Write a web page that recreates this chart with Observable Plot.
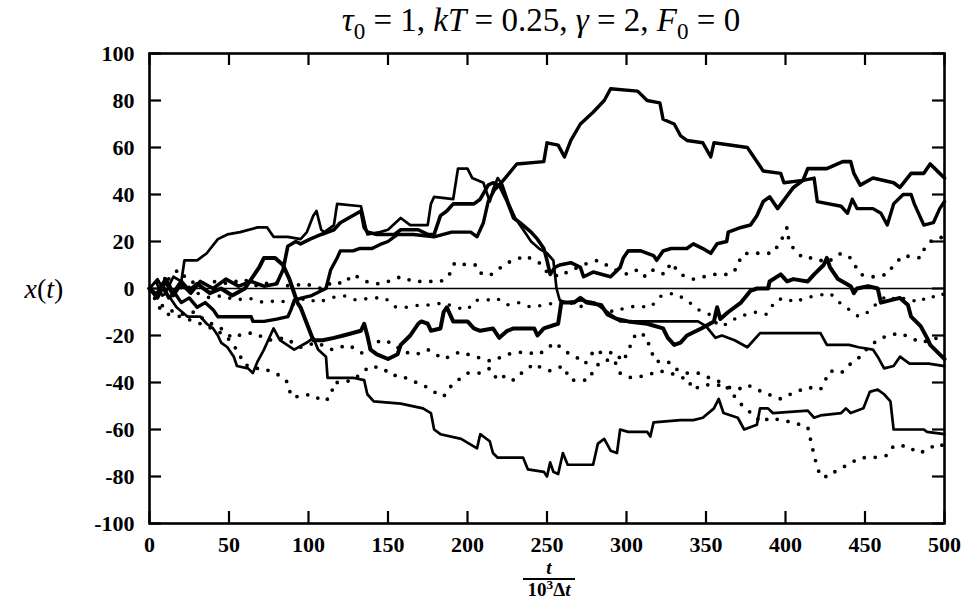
<!DOCTYPE html>
<html><head><meta charset="utf-8">
<script src="https://cdn.jsdelivr.net/npm/d3@7"></script>
<script src="https://cdn.jsdelivr.net/npm/@observablehq/plot@0.6"></script>
<style>body{margin:0;background:#fff}#chart svg{display:block}</style>
</head><body><div id="chart"></div>
<script>
// tick labels
const xTicks = [0, 50, 100, 150, 200, 250, 300, 350, 400, 450, 500];
const yTicks = [-100, -80, -60, -40, -20, 0, 20, 40, 60, 80, 100];

// trajectories [t/(10^3 dt), x(t)]
const solidA = [[0,0],[4,-3],[8,2],[12,-4],[16,-2],[20,-6],[25,-4],[30,-8],[35,-6],[40,-9],[43,-12],[55,-12],[64,-12],[65,-14],[72,-14],[80,-13],[87,-12],[89,-9],[91,-5],[96,-4],[102,-3],[108,-1],[111,0],[114,8],[118,13],[120,16],[128,16],[132,17],[140,17],[146,19],[150,20],[156,23],[166,23],[179,22],[190,24],[202,24],[206,22],[210,28],[213,37],[217,42],[220,44],[225,48],[231,53],[248,54],[250,62],[257,61],[261,56],[265,63],[271,70],[279,75],[286,80],[290,85],[307,84],[313,80],[321,79],[323,72],[330,70],[334,65],[338,63],[348,62],[353,56],[355,62],[376,60],[384,52],[386,50],[397,49],[399,45],[411,46],[418,47],[420,37],[435,35],[439,32],[442,38],[445,34],[455,34],[460,32],[464,27],[468,36],[474,40],[479,40],[481,36],[487,27],[493,28],[497,34],[500,37]];
const solidB = [[0,0],[5,4],[10,-2],[15,5],[20,3],[22,12],[30,12],[36,15],[43,21],[49,23],[57,24],[68,26],[74,26],[78,22],[87,22],[95,21],[99,24],[103,31],[105,33],[108,25],[110,24],[116,27],[118,36],[133,35],[137,23],[145,24],[150,25],[158,30],[164,27],[175,27],[177,36],[179,39],[191,38],[194,51],[200,51],[203,47],[210,45],[214,37],[216,42],[219,47],[222,44],[226,36],[230,30],[233,27],[236,24],[240,20],[245,17],[250,15],[254,12],[255,6],[256,0],[258,-5],[262,-6],[272,-5],[280,-6],[290,-11],[296,-14],[313,-14],[328,-14],[345,-14],[350,-16],[356,-21],[360,-20],[368,-22],[376,-25],[384,-19],[410,-19],[422,-19],[426,-24],[440,-24],[446,-25],[455,-26],[458,-29],[462,-34],[468,-33],[472,-29],[478,-32],[490,-32],[500,-33]];
const solidC = [[0,0],[5,-4],[10,3],[15,-3],[20,2],[26,-2],[32,3],[40,0],[48,4],[56,1],[64,3],[72,1],[80,2],[84,8],[87,18],[92,20],[95,19],[101,21],[108,23],[116,25],[120,28],[133,33],[135,26],[137,24],[143,23],[154,23],[158,25],[169,25],[175,23],[179,23],[183,31],[187,33],[191,36],[204,36],[208,38],[213,44],[216,45],[220,44],[225,37],[229,30],[233,28],[240,24],[244,21],[248,17],[250,12],[252,6],[255,9],[258,10],[265,11],[271,9],[273,5],[279,7],[290,5],[296,9],[298,13],[301,16],[309,16],[317,14],[319,12],[323,16],[328,17],[338,17],[342,19],[348,17],[353,15],[357,19],[363,20],[364,24],[372,26],[378,27],[382,31],[386,37],[390,39],[395,34],[405,43],[411,46],[414,51],[426,51],[436,54],[441,54],[443,49],[447,44],[455,47],[468,45],[472,43],[479,49],[487,49],[491,53],[497,49],[500,47]];
const solidD = [[0,0],[5,-3],[10,4],[15,-2],[20,3],[25,-1],[30,2],[38,-2],[45,0],[52,-3],[60,0],[65,5],[69,9],[72,13],[79,13],[84,10],[88,4],[90,0],[93,-6],[95,-8],[99,-15],[103,-22],[109,-22],[116,-21],[122,-20],[133,-18],[135,-15],[137,-20],[139,-26],[143,-28],[150,-30],[156,-28],[158,-24],[164,-20],[169,-15],[171,-14],[175,-15],[177,-18],[183,-17],[185,-10],[187,-8],[189,-11],[191,-14],[200,-14],[204,-17],[208,-18],[216,-17],[220,-21],[225,-18],[229,-17],[242,-17],[244,-20],[248,-17],[257,-15],[259,-6],[267,-6],[271,-4],[275,-6],[284,-7],[288,-11],[294,-13],[301,-14],[313,-15],[323,-17],[326,-21],[330,-24],[334,-23],[338,-20],[347,-17],[355,-14],[357,-8],[359,-13],[364,-10],[372,-6],[378,-1],[382,0],[389,0],[390,3],[397,6],[401,3],[405,4],[414,3],[418,6],[424,10],[426,13],[428,9],[433,4],[441,1],[443,-2],[445,0],[452,1],[458,0],[460,-6],[472,-4],[477,-7],[479,-12],[485,-16],[489,-21],[491,-24],[497,-28],[500,-30]];
const solidE = [[0,0],[4,3],[8,-3],[11,-2],[17,-8],[24,-12],[32,-12],[36,-15],[40,-17],[43,-20],[45,-23],[49,-25],[53,-29],[55,-33],[62,-34],[65,-36],[68,-31],[72,-26],[74,-23],[78,-17],[82,-22],[91,-26],[99,-23],[103,-21],[106,-26],[111,-29],[112,-38],[128,-38],[135,-39],[137,-45],[141,-48],[158,-49],[172,-51],[177,-53],[179,-60],[183,-62],[196,-64],[206,-68],[208,-62],[214,-65],[216,-70],[219,-72],[235,-72],[238,-77],[248,-78],[250,-80],[252,-74],[254,-78],[257,-79],[260,-70],[263,-75],[279,-75],[282,-66],[286,-64],[290,-69],[294,-70],[296,-60],[301,-61],[313,-61],[315,-63],[317,-57],[334,-56],[342,-56],[348,-55],[355,-51],[358,-47],[361,-53],[370,-55],[374,-60],[382,-58],[384,-51],[389,-51],[392,-53],[414,-52],[418,-55],[422,-54],[435,-53],[438,-51],[441,-53],[449,-51],[453,-44],[458,-43],[462,-45],[466,-48],[468,-60],[487,-60],[489,-61],[500,-62]];
const dottedA = [[0,0],[7,-9],[12,-11],[20,-12],[28,-14],[36,-16],[42,-18],[48,-20],[56,-27],[59,-32],[66,-34],[72,-34],[78,-36],[82,-37],[87,-40],[89,-46],[95,-46],[101,-45],[110,-48],[114,-46],[116,-40],[120,-40],[128,-39],[135,-35],[139,-33],[147,-34],[152,-37],[158,-37],[164,-39],[172,-41],[179,-44],[185,-46],[189,-42],[194,-39],[200,-36],[208,-36],[214,-34],[219,-39],[224,-37],[229,-39],[234,-36],[238,-34],[242,-32],[247,-34],[252,-35],[260,-33],[265,-39],[276,-39],[280,-34],[284,-31],[292,-30],[296,-36],[303,-38],[313,-37],[320,-35],[328,-36],[334,-38],[338,-38],[342,-43],[348,-41],[357,-41],[364,-42],[370,-43],[376,-41],[382,-43],[389,-45],[397,-47],[403,-45],[414,-42],[422,-43],[428,-35],[435,-36],[441,-32],[447,-29],[452,-25],[458,-22],[464,-20],[472,-19],[479,-21],[485,-23],[491,-22],[500,-20]];
const dottedB = [[0,0],[5,-6],[12,-9],[20,-11],[28,-10],[36,-14],[45,-17],[52,-21],[60,-19],[66,-19],[75,-22],[85,-21],[95,-25],[105,-23],[115,-26],[125,-24],[135,-28],[145,-22],[152,-23],[160,-27],[168,-28],[175,-26],[185,-30],[195,-27],[205,-29],[215,-31],[225,-28],[235,-27],[245,-28],[255,-23],[262,-27],[268,-29],[274,-32],[280,-26],[286,-28],[292,-27],[298,-31],[306,-19],[312,-20],[318,-31],[326,-31],[330,-34],[338,-36],[345,-36],[352,-38],[360,-40],[366,-44],[370,-48],[375,-51],[380,-54],[385,-57],[390,-55],[397,-56],[405,-57],[414,-59],[416,-65],[418,-71],[420,-76],[422,-80],[428,-80],[431,-78],[439,-75],[447,-72],[455,-72],[464,-71],[468,-67],[477,-67],[483,-70],[489,-69],[495,-66],[500,-67]];
const dottedC = [[0,0],[6,3],[12,4],[18,8],[25,3],[32,2],[42,3],[50,2],[59,4],[68,1],[78,3],[88,1],[98,2],[108,0],[116,3],[122,2],[128,6],[136,3],[144,2],[150,3],[158,5],[166,3],[175,3],[183,3],[188,5],[192,11],[200,10],[206,10],[209,6],[215,6],[219,8],[225,11],[230,12],[236,14],[242,12],[245,11],[250,7],[258,5],[265,8],[270,9],[276,11],[282,12],[290,9],[296,7],[301,6],[307,8],[312,5],[317,8],[324,6],[328,11],[334,6],[342,4],[355,6],[365,6],[370,9],[372,14],[376,15],[392,15],[397,20],[401,26],[402,21],[405,17],[411,13],[418,13],[426,11],[435,15],[441,13],[447,6],[455,5],[464,6],[468,10],[474,14],[485,13],[488,18],[493,21],[500,22]];
const dottedD = [[0,0],[5,-4],[10,5],[16,-3],[22,2],[30,-2],[38,-4],[46,-3],[54,-5],[62,-4],[72,-6],[82,-5],[90,-7],[98,-4],[106,-6],[114,-4],[122,-3],[130,-5],[140,-4],[148,-4],[155,-8],[162,-8],[170,-7],[178,-7],[185,-6],[192,-8],[200,-9],[205,-5],[212,-5],[218,-4],[225,-7],[232,-6],[240,-8],[248,-7],[256,-6],[262,-5],[270,-8],[278,-6],[285,-8],[292,-10],[300,-8],[307,-7.5],[315,-8],[322,-3],[330,-2],[338,-5],[345,-9],[352,-11],[358,-16],[364,-15],[370,-12],[376,-11],[382,-10],[388,-11],[394,-5],[400,-4],[406,-6],[412,-4],[420,-3],[428,-2],[434,-6],[440,-9],[446,-12],[452,-10],[458,-6],[464,-3],[470,-5],[476,-4],[484,-6],[490,-3],[496,-4],[500,-2]];

const series = [
  {name: "A", pts: solidA, w: 3.4, dotted: false},
  {name: "B", pts: solidB, w: 2.7, dotted: false},
  {name: "C", pts: solidC, w: 3.6, dotted: false},
  {name: "D", pts: solidD, w: 4, dotted: false},
  {name: "E", pts: solidE, w: 2.7, dotted: false},
  {name: "F", pts: dottedA, w: 3.8, dotted: true},
  {name: "G", pts: dottedB, w: 3.8, dotted: true},
  {name: "H", pts: dottedC, w: 3.8, dotted: true},
  {name: "I", pts: dottedD, w: 3.6, dotted: true}
];

const W = 974, H = 599;
const mL = 149, mR = 30, mT = 53, mB = 76;
const fw = W - mL - mR, fh = H - mT - mB, tl = 12;
const font = "'Liberation Serif', 'DejaVu Serif', serif";

const lineMarks = series.map(s => Plot.line(s.pts.map(([t, x]) => ({t, x})), {
  x: "t", y: "x", stroke: "black", strokeWidth: s.w,
  strokeLinejoin: "round", strokeLinecap: "round",
  strokeDasharray: s.dotted ? "0,11" : null
}));

const chart = Plot.plot({
  width: W, height: H,
  marginLeft: mL, marginRight: mR, marginTop: mT, marginBottom: mB,
  style: {fontFamily: font, fontSize: "22px", fontWeight: "bold", background: "white", color: "black"},
  x: {domain: [0, 500]},
  y: {domain: [-100, 100]},
  marks: [
    Plot.ruleY([0], {stroke: "black", strokeWidth: 1.6}),
    ...lineMarks,
    Plot.frame({stroke: "black", strokeWidth: 2.6}),
    Plot.tickX(xTicks, {x: d => d, insetTop: fh - tl, stroke: "black", strokeWidth: 2.2}),
    Plot.tickX(xTicks, {x: d => d, insetBottom: fh - tl, stroke: "black", strokeWidth: 2.2}),
    Plot.tickY(yTicks, {y: d => d, insetRight: fw - tl, stroke: "black", strokeWidth: 2.2}),
    Plot.tickY(yTicks, {y: d => d, insetLeft: fw - tl, stroke: "black", strokeWidth: 2.2}),
    Plot.axisX(xTicks, {anchor: "bottom", tickSize: 0, tickPadding: 13, fontSize: 22, tickFormat: d => String(d), label: null}),
    Plot.axisY(yTicks, {anchor: "left", tickSize: 0, tickPadding: 15, fontSize: 22, tickFormat: d => String(d), label: null})
  ]
});
document.getElementById("chart").append(chart);

// title, axis labels as real text
const svg = d3.select(chart);
function richText(x, y, size, parts, weight) {
  const t = svg.append("text").attr("x", x).attr("y", y).attr("text-anchor", "middle")
    .attr("font-family", font).attr("font-size", size).attr("fill", "black")
    .attr("font-weight", weight || "normal");
  let shift = 0;
  parts.forEach(p => {
    const sp = t.append("tspan").text(p.s);
    if (p.i) sp.attr("font-style", "italic");
    const target = p.sub ? size * 0.25 : p.sup ? -size * 0.38 : 0;
    if (target !== shift) { sp.attr("dy", target - shift); shift = target; }
    if (p.sub || p.sup) sp.attr("font-size", size * 0.7);
  });
  return t;
}
richText(541, 31, 33, [
  {s: "τ", i: true}, {s: "0", sub: true}, {s: " = 1, "},
  {s: "kT", i: true}, {s: " = 0.25, "},
  {s: "γ", i: true}, {s: " = 2, "},
  {s: "F", i: true}, {s: "0", sub: true}, {s: " = 0"}
]);
richText(44, 298, 28, [{s: "x", i: true}, {s: "("}, {s: "t", i: true}, {s: ")"}]);
richText(549, 574, 19, [{s: "t", i: true}], "bold");
svg.append("line").attr("x1", 523).attr("x2", 575).attr("y1", 579).attr("y2", 579)
  .attr("stroke", "black").attr("stroke-width", 1.8);
richText(549, 596, 19, [{s: "10"}, {s: "3", sup: true}, {s: "Δ"}, {s: "t", i: true}], "bold");
</script>
</body></html>
